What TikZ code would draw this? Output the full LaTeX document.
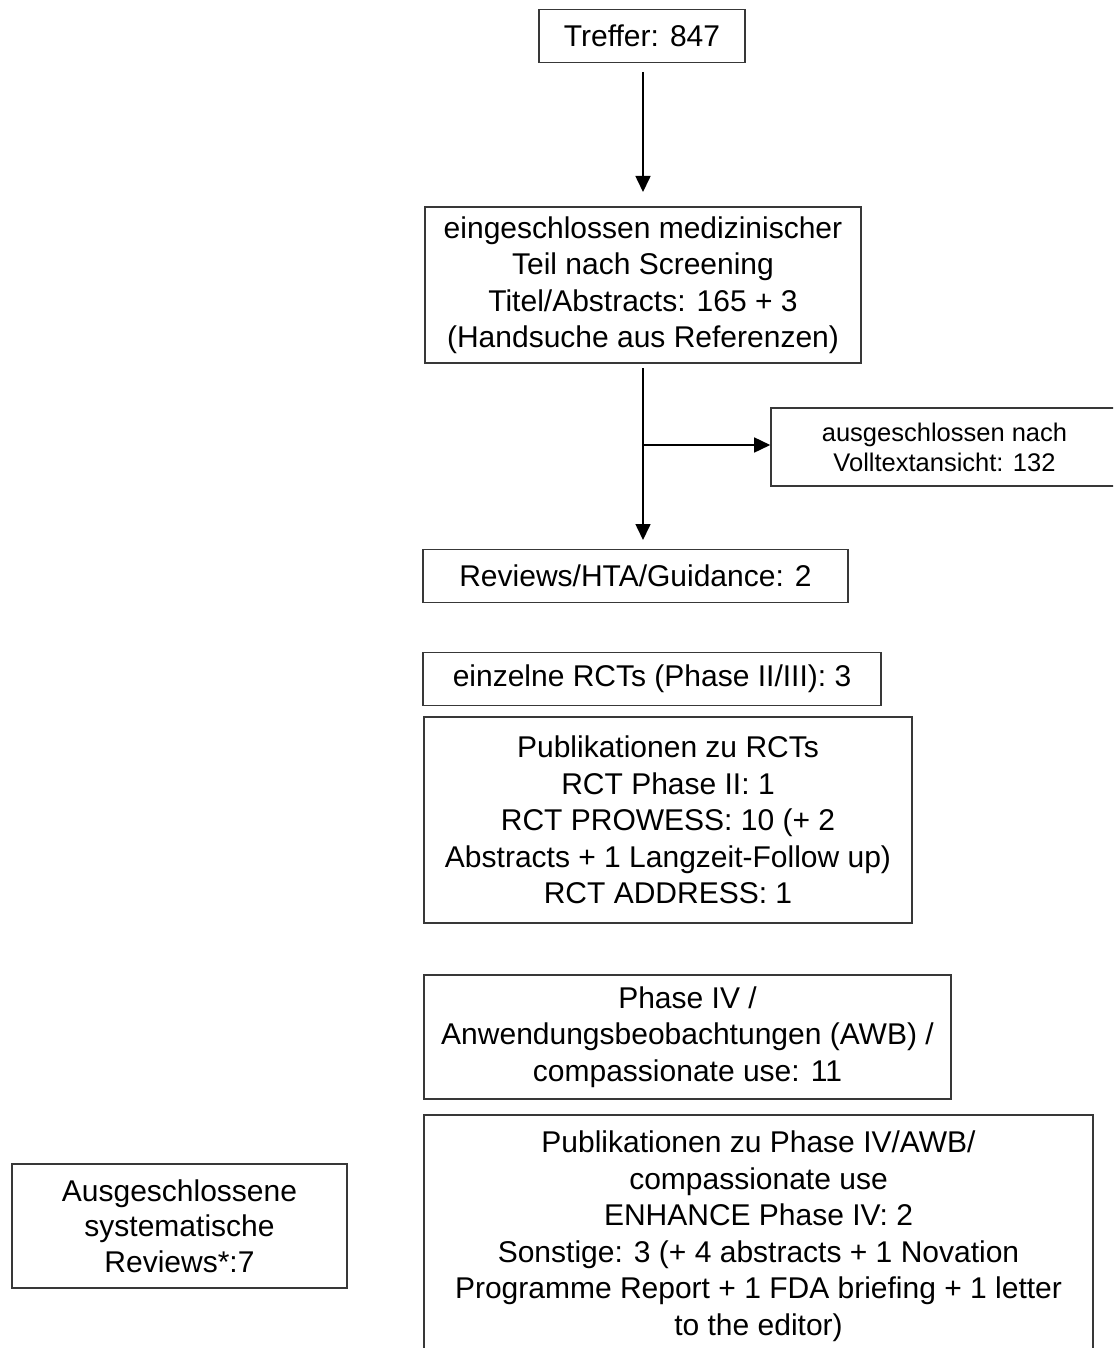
\documentclass[tikz,border=0pt]{standalone}
\usepackage{fontspec}
\setmainfont{Liberation Sans}
\usetikzlibrary{arrows.meta}

\begin{document}
\begin{tikzpicture}[x=1pt,y=-1pt,
  box/.style={draw=black!78,line width=1.6pt,rectangle,inner sep=0pt,align=center,
    font={\fontsize{30}{36.5}\selectfont},text=black},
  smallbox/.style={box,font={\fontsize{25.5}{30}\selectfont}},
  flow/.style={draw=black,line width=1.6pt,-{Triangle[length=16pt,width=15pt]}}]
  \useasboundingbox (0,0) rectangle (1113,1348);
  \clip (0,0) rectangle (1113,1348);
  \fill[white] (0,0) rectangle (1113,1348);

  % search hits and screening
  \node[box,minimum width=206,minimum height=53] (hits) at (642,36) {Treffer: 847};
  \node[box,minimum width=436,minimum height=156] (screen) at (643,285)
    {eingeschlossen medizinischer\\Teil nach Screening\\Titel/Abstracts: 165 + 3\\(Handsuche aus Referenzen)};
  \node[smallbox,minimum width=347,minimum height=78] (excl) at (944.5,447)
    {ausgeschlossen nach\\Volltextansicht: 132};

  % included categories
  \node[box,minimum width=425,minimum height=53] (rev) at (635.5,576) {Reviews/HTA/Guidance: 2};
  \node[box,minimum width=458,minimum height=53] (rct) at (652,679) {einzelne RCTs (Phase II/III): 3};
  \node[box,minimum width=488,minimum height=206] (pubrct) at (668,820)
    {Publikationen zu RCTs\\RCT Phase II: 1\\RCT PROWESS: 10 (+ 2\\Abstracts + 1 Langzeit-Follow up)\\RCT ADDRESS: 1};
  \node[box,minimum width=527,minimum height=124] (p4) at (687.5,1037)
    {Phase IV /\\Anwendungsbeobachtungen (AWB) /\\compassionate use: 11};
  \node[box,minimum width=669,minimum height=242] (pubp4) at (758.5,1236)
    {Publikationen zu Phase IV/AWB/\\compassionate use\\ENHANCE Phase IV: 2\\Sonstige: 3 (+ 4 abstracts + 1 Novation\\Programme Report + 1 FDA briefing + 1 letter\\to the editor)};
  \node[box,minimum width=335,minimum height=124,font={\fontsize{30}{35.5}\selectfont}] (sysrev) at (179.5,1226)
    {Ausgeschlossene\\systematische\\Reviews*:7};

  % connectors
  \coordinate (a1) at (643,72);
  \coordinate (a2) at (643,192);
  \coordinate (b1) at (643,368);
  \coordinate (b2) at (643,540);
  \coordinate (br) at (643,445);
  \draw[flow] (a1) -- (a2);
  \draw[flow] (b1) -- (b2);
  \draw[flow] (br) -- (br -| excl.west);
\end{tikzpicture}
\end{document}
